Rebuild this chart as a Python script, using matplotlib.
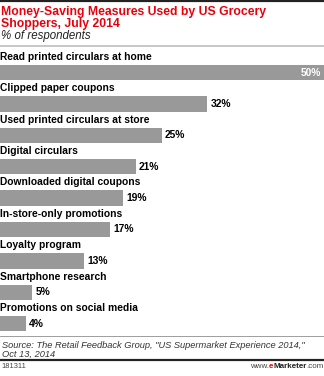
import matplotlib
matplotlib.use("Agg")
import matplotlib.pyplot as plt
from matplotlib.lines import Line2D

categories = [
    "Read printed circulars at home",
    "Clipped paper coupons",
    "Used printed circulars at store",
    "Digital circulars",
    "Downloaded digital coupons",
    "In-store-only promotions",
    "Loyalty program",
    "Smartphone research",
    "Promotions on social media",
]
values = [50, 32, 25, 21, 19, 17, 13, 5, 4]

title_lines = ["Money-Saving Measures Used by US Grocery", "Shoppers, July 2014"]
subtitle = "% of respondents"
source_lines = ['Source: The Retail Feedback Group, "US Supermarket Experience 2014,"',
                "Oct 13, 2014"]
chart_id = "181311"

W, H = 324, 376
DPI = 72
fig = plt.figure(figsize=(W / DPI, H / DPI), dpi=DPI)
fig.patch.set_facecolor("white")

FONT = "Liberation Sans"
RED = "#e8000b"
BAR = "#999999"


def fy(py):
    return 1 - py / H


def fx(px):
    return px / W


# rules
fig.add_artist(Line2D([0, 1], [fy(1), fy(1)], color="#222222", lw=2.2))
fig.add_artist(Line2D([0, 1], [fy(45.5), fy(45.5)], color="#bbbbbb", lw=1.6))
fig.add_artist(Line2D([0, 1], [fy(335.5), fy(335.5)], color="#888888", lw=0.8))
fig.add_artist(Line2D([0, 1], [fy(360), fy(360)], color="#222222", lw=2.2))

# title block
fig.text(fx(1), fy(15.5), title_lines[0], color=RED, fontsize=12.3, fontweight="bold",
         family=FONT, va="baseline")
fig.text(fx(1), fy(27.5), title_lines[1], color=RED, fontsize=12.3, fontweight="bold",
         family=FONT, va="baseline")
fig.text(fx(1), fy(39.5), subtitle, color="#222222", fontsize=11.5, style="italic",
         family=FONT, va="baseline")

# bars
step = 31.4
first_center = 72.5
ax_top = first_center - 0.5 * step
ax_bot = first_center + 8.5 * step
ax = fig.add_axes([0, fy(ax_bot), 1, (ax_bot - ax_top) / H])
ax.set_xlim(0, 50)
ax.set_ylim(len(categories) - 0.5, -0.5)
ax.axis("off")

bar_h = 15.5 / step
ax.barh(range(len(categories)), values, height=bar_h, color=BAR, edgecolor="none")

LBL = 10.3
for i, (cat, v) in enumerate(zip(categories, values)):
    ax.annotate(cat, xy=(0, i - bar_h / 2), xytext=(0, 3), textcoords="offset points",
                ha="left", va="bottom", fontsize=LBL, fontweight="bold",
                family=FONT, color="black")
    label = f"{v}%"
    if v == max(values):
        ax.annotate(label, xy=(v, i), xytext=(-3, 0), textcoords="offset points",
                    ha="right", va="center", fontsize=LBL, fontweight="bold",
                    family=FONT, color="white")
    else:
        ax.annotate(label, xy=(v, i), xytext=(3, 0), textcoords="offset points",
                    ha="left", va="center", fontsize=LBL, fontweight="bold",
                    family=FONT, color="black")

# source
fig.text(fx(2), fy(348), source_lines[0], color="#333333", fontsize=9.3, style="italic",
         family=FONT, va="baseline")
fig.text(fx(2), fy(357), source_lines[1], color="#333333", fontsize=9.3, style="italic",
         family=FONT, va="baseline")

# footer
FOOT_Y = 368
fig.text(fx(1), fy(FOOT_Y), chart_id, color="#444444", fontsize=7.5, family=FONT,
         va="baseline")
t1 = fig.text(fx(324), fy(FOOT_Y), ".com", color="#444444", fontsize=8,
              family=FONT, va="baseline", ha="right")
fig.canvas.draw()
r = fig.canvas.get_renderer()
bb = t1.get_window_extent(r)
t2 = fig.text(bb.x0 / W, fy(FOOT_Y), "Marketer", color="#222222", fontsize=8,
              fontweight="bold", family=FONT, va="baseline", ha="right")
bb = t2.get_window_extent(r)
t3 = fig.text(bb.x0 / W, fy(FOOT_Y), "e", color=RED, fontsize=8,
              fontweight="bold", family=FONT, va="baseline", ha="right")
bb = t3.get_window_extent(r)
fig.text(bb.x0 / W, fy(FOOT_Y), "www.", color="#444444", fontsize=8,
         family=FONT, va="baseline", ha="right")

fig.savefig("out.png", dpi=DPI, facecolor="white")
